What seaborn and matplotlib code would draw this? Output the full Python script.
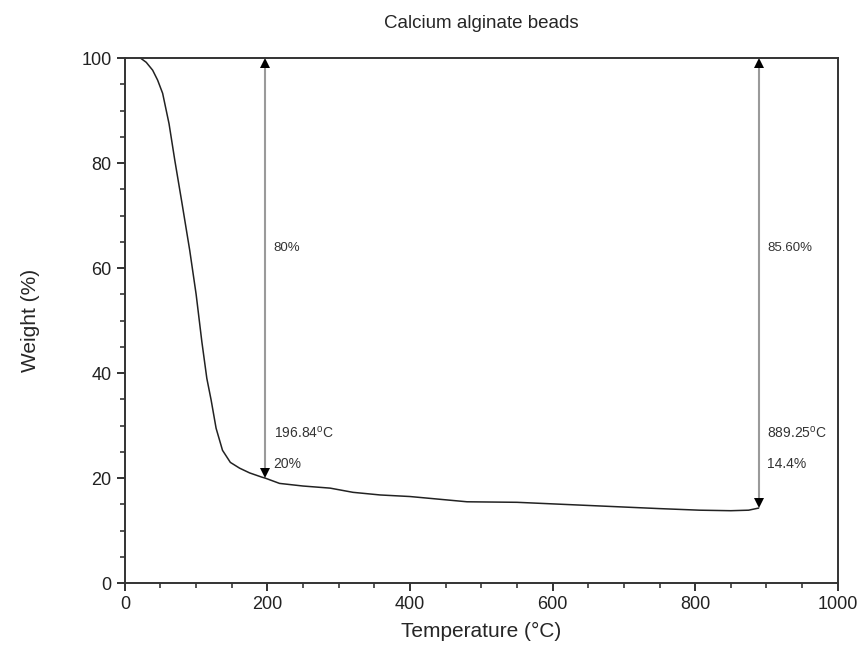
import matplotlib
matplotlib.use("Agg")
import matplotlib.pyplot as plt
from matplotlib.ticker import MultipleLocator
import seaborn as sns
import pandas as pd

sns.set_style("ticks")
plt.rcParams['font.family'] = ['Liberation Sans', 'DejaVu Sans']
plt.rcParams['mathtext.fontset'] = 'custom'
plt.rcParams['mathtext.rm'] = 'Liberation Sans'

title = "Calcium alginate beads"
temperature = [22, 30, 39, 46, 53, 62, 70, 80, 91, 100, 108, 115, 121, 128, 137, 148, 161, 175, 192, 197,
               217, 250, 288, 320, 358, 400, 440, 480, 550, 600, 650, 700, 750, 806, 850, 875, 889]
weight = [100, 99.2, 97.7, 95.8, 93.3, 87.5, 80.6, 72.5, 63.4, 55, 46, 39, 34.9, 29.5, 25.3, 23.0, 21.9, 21.0, 20.2, 20.0,
          19.0, 18.5, 18.1, 17.3, 16.8, 16.5, 16.0, 15.5, 15.4, 15.1, 14.8, 14.5, 14.2, 13.9, 13.8, 13.9, 14.3]

arrow_x = [196.84, 889.25]
arrow_bottom = [20, 14.4]
loss_labels = ["80%", "85.60%"]
temp_labels = ["196.84$^{\\rm o}$C", "889.25$^{\\rm o}$C"]
residue_labels = ["20%", "14.4%"]

df = pd.DataFrame({"Temperature": temperature, "Weight": weight})

fig = plt.figure(figsize=(8.61, 6.68), dpi=100)
ax = fig.add_axes([0.145, 0.127, 0.828, 0.786])

sns.lineplot(data=df, x="Temperature", y="Weight", ax=ax, color="#222222", linewidth=1.1, sort=False)

for xv, yb, l1, l2, l3 in zip(arrow_x, arrow_bottom, loss_labels, temp_labels, residue_labels):
    ax.plot([xv, xv], [yb + 1.0, 99], color="#9a9a9a", lw=1.5)
    ax.plot([xv], [99.05], marker="^", color="black", markersize=7, markeredgewidth=0)
    ax.plot([xv], [yb + 0.95], marker="v", color="black", markersize=7, markeredgewidth=0)
    ax.text(xv + 12, 63.8, l1, fontsize=9.5, color="#333333", va="center")
    ax.text(xv + 12, 28.6, l2, fontsize=10, color="#333333", va="center")
    ax.text(xv + 12, 22.7, l3, fontsize=10, color="#333333", va="center")

ax.set_xlim(0, 1000)
ax.set_ylim(0, 100)
ax.xaxis.set_major_locator(MultipleLocator(200))
ax.xaxis.set_minor_locator(MultipleLocator(50))
ax.yaxis.set_major_locator(MultipleLocator(20))
ax.yaxis.set_minor_locator(MultipleLocator(5))
ax.tick_params(which="major", direction="out", length=6, width=1.3, labelsize=13, colors="#222222")
ax.tick_params(which="minor", direction="out", length=3.5, width=1.1)
for s in ax.spines.values():
    s.set_linewidth(1.4)
    s.set_color("#333333")

ax.set_xlabel("Temperature (°C)", fontsize=15, labelpad=6)
ax.set_ylabel("Weight (%)", fontsize=15, labelpad=30)
ax.set_title(title, fontsize=13.5, pad=22)

fig.savefig("out.png", dpi=100)
